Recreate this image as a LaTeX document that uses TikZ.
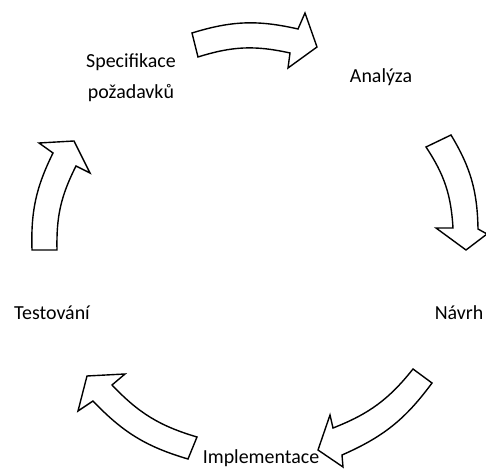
\documentclass[tikz,border=0pt]{standalone}
\usepackage{fontspec}
\setmainfont{Carlito}
\tikzset{
  cyclearrow/.style={draw=black, fill=white, line width=1.4pt, line join=miter},
  phase/.style={font=\fontsize{20}{32}\selectfont, align=center, inner sep=0pt, anchor=base}
}
\begin{document}
\begin{tikzpicture}[x=1bp,y=1bp]
\useasboundingbox (0,0) rectangle (486,470);

\node[phase] (spec) at (131,371) {Specifikace\\požadavků};
\node[phase] (analyza) at (381,387) {Analýza};
\node[phase] (navrh) at (459,150) {Návrh};
\node[phase] (impl) at (261,6) {Implementace};
\node[phase] (test) at (52,150) {Testování};

\draw[cyclearrow] (290,417) to[bend right=15] (198,413) -- (192,437) to[bend left=15] (298,441) -- (305,457) -- (317,423) -- (288,402) -- cycle;
\draw[cyclearrow] (453,242) to[bend right=15] (426,323) -- (451,335) to[bend left=15] (478,241) -- (487,236) -- (466,220) -- (436,242) -- cycle;
\draw[cyclearrow] (333,42) to[bend right=15] (413,101) -- (432,87) to[bend left=15] (342,15) -- (343,3) -- (318,20) -- (330,55) -- cycle;
\draw[cyclearrow] (93,69) to[bend right=15] (188,11) -- (197,33) to[bend left=15] (112,85) -- (125,96) -- (87,94) -- (78,59) -- cycle;
\draw[cyclearrow] (76,304) to[bend right=14] (57,220) -- (32,220) to[bend left=14] (53,317) -- (39,327) -- (74,329) -- (90,297) -- cycle;
\end{tikzpicture}
\end{document}
